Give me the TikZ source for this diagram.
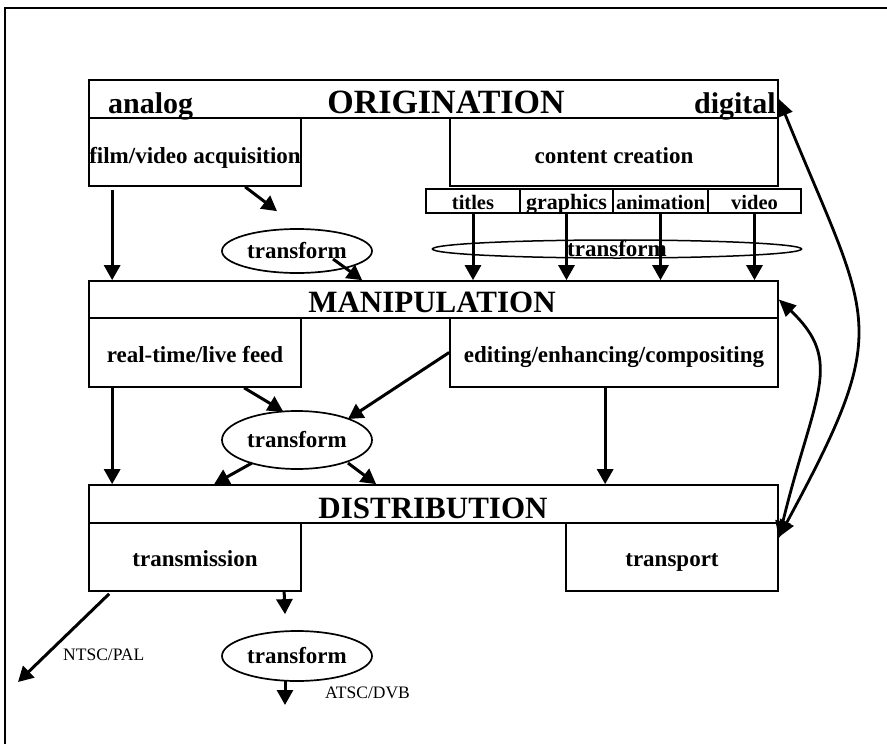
\documentclass[tikz,border=0pt]{standalone}
\usepackage{fontspec}
\setmainfont{Liberation Serif}
\usetikzlibrary{arrows.meta,shapes.geometric}
\newcommand\hdfont{\fontsize{31}{32}\selectfont\bfseries}
\newcommand\orfont{\fontsize{34}{35}\selectfont\bfseries}
\newcommand\adfont{\fontsize{30}{31}\selectfont\bfseries}
\newcommand\lbfont{\fontsize{23}{25}\selectfont\bfseries}
\newcommand\smfont{\fontsize{20.5}{22}\selectfont\bfseries}
\newcommand\tnfont{\fontsize{17.5}{19}\selectfont}
\begin{document}
\begin{tikzpicture}[x=1pt,y=-1pt,
  box/.style={draw,rectangle,line width=1.7pt,inner sep=0pt,font=\lbfont,text height=19pt,text depth=0pt},
  cell/.style={draw,rectangle,line width=1.5pt,inner sep=0pt,font=\smfont,minimum height=24pt,text height=17pt,text depth=0pt},
  oval/.style={draw,ellipse,line width=1.7pt,inner sep=0pt,font=\lbfont},
  txt/.style={inner sep=0pt},
  arr/.style={line width=3pt,-{Triangle[length=15pt,width=16pt]}},
  carr/.style={line width=2.8pt,{Triangle[length=17pt,width=15pt]}-{Triangle[length=17pt,width=15pt]}}]
\useasboundingbox (0,0) rectangle (887,744);
% frame
\draw[line width=2pt] (5,744) -- (5,8);
\draw[line width=2.6pt] (4,8) -- (887,8);
% ORIGINATION
\node[box,minimum width=689pt,minimum height=38pt] (orig) at (433.5,99) {};
\node[txt,anchor=base] (origT) at (446,113) {\orfont ORIGINATION};
\node[txt,anchor=base west] (analog) at (108,113) {\adfont analog};
\node[txt,anchor=base east] (digital) at (776,113) {\adfont digital};
\node[box,minimum width=212pt,minimum height=68pt,text height=22pt] (film) at (195,152) {film/video acquisition};
\node[box,minimum width=328pt,minimum height=68pt,text height=22pt] (content) at (614,152) {content creation};
\node[cell,minimum width=94pt] (titles) at (473,201) {titles};
\node[cell,minimum width=93pt] (graphics) at (566.5,201) {\fontsize{22}{23}\selectfont graphics};
\node[cell,minimum width=95pt] (animation) at (660.5,201) {animation};
\node[cell,minimum width=93pt] (video) at (754.5,201) {video};
\node[oval,minimum width=150pt,minimum height=44pt] (e1) at (297,251) {transform};
\node[draw,ellipse,line width=1.5pt,minimum width=369pt,minimum height=18pt,inner sep=0pt] (ebig) at (617,249) {};
\node[txt,font=\lbfont,anchor=base] (ebigT) at (617,256) {transform};
% MANIPULATION
\node[box,minimum width=689pt,minimum height=37pt] (manip) at (433.5,299.5) {};
\node[txt,anchor=base] (manipT) at (432,312) {\hdfont MANIPULATION};
\node[box,minimum width=212pt,minimum height=69pt] (realtime) at (195,352.5) {real-time/live feed};
\node[box,minimum width=328pt,minimum height=69pt] (editing) at (614,352.5) {editing/enhancing/compositing};
\node[oval,minimum width=150pt,minimum height=58pt] (e2) at (297,440) {transform};
% DISTRIBUTION
\node[box,minimum width=689pt,minimum height=38pt] (dist) at (433.5,504) {};
\node[txt,anchor=base] (distT) at (433,518) {\hdfont DISTRIBUTION};
\node[box,minimum width=212pt,minimum height=68pt] (transmission) at (195,557) {transmission};
\node[box,minimum width=212pt,minimum height=68pt] (transport) at (672,557) {transport};
\node[oval,minimum width=150pt,minimum height=50pt] (e3) at (297,656) {transform};
\node[txt,anchor=west] (ntscL) at (63,655) {\tnfont NTSC/PAL};
\node[txt,anchor=west] (atscL) at (325,693) {\tnfont ATSC/DVB};
\coordinate (ntsc) at (18,682);
\coordinate (atsc) at (285,705);
% arrows
\draw[arr] ([xshift=24pt,yshift=-3pt]film.south west) -- ([xshift=24pt]manip.north west);
\draw[arr] ([xshift=157pt]film.south west) -- ([xshift=-20pt,yshift=17pt]e1.north);
\draw[arr] ([xshift=36pt,yshift=-8pt]e1.center) -- ([xshift=274pt]manip.north west);
\draw[arr] (titles.south) -- (titles.south |- manip.north);
\draw[arr] (graphics.south) -- (graphics.south |- manip.north);
\draw[arr] (animation.south) -- (animation.south |- manip.north);
\draw[arr] (video.south) -- (video.south |- manip.north);
\draw[arr] ([xshift=24pt]realtime.south west) -- ([xshift=24pt]dist.north west);
\draw[arr] ([xshift=156pt]realtime.south west) -- ([xshift=-14pt,yshift=-1pt]e2.north);
\draw[arr] (editing.west) -- ([xshift=51pt,yshift=21pt]e2.center);
\draw[arr] ([xshift=-45pt,yshift=-23pt]e2.center) -- ([xshift=126pt]dist.north west);
\draw[arr] ([xshift=51pt,yshift=-23pt]e2.center) -- ([xshift=288pt]dist.north west);
\draw[arr] ([xshift=156pt]editing.south west) -- ([xshift=517pt]dist.north west);
\draw[arr] ([xshift=196pt]transmission.south west) -- ([xshift=-12pt,yshift=16pt]e3.north);
\draw[arr] ([xshift=-12pt,yshift=2pt]e3.south) -- (atsc);
\draw[arr] ([xshift=21pt,yshift=-2pt]transmission.south west) -- (ntsc);
\draw[carr] (orig.east) .. controls (871,325) and (895,322) .. ([yshift=-15pt]transport.north east);
\draw[carr] (manip.east) .. controls (845,362) and (814,394) .. ([yshift=-16pt]transport.north east);
\end{tikzpicture}
\end{document}
